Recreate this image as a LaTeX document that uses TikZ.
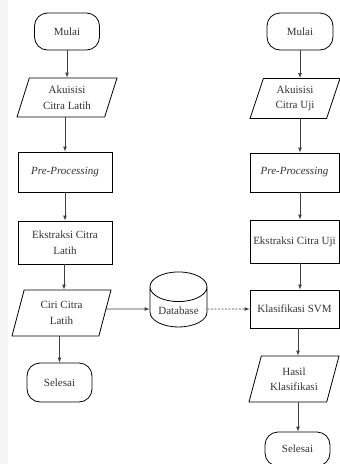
\documentclass[tikz,border=0pt]{standalone}
\usepackage{fontspec}
\setmainfont{Liberation Serif}
\usetikzlibrary{shapes.geometric}

\begin{document}
\begin{tikzpicture}[x=1pt,y=-1pt,
    font=\fontsize{11}{15.5}\selectfont,
    every node/.append style={text=black!80, align=center},
    terminal/.style={draw, thick, rounded corners=13pt, minimum width=65pt, minimum height=37pt},
    proses/.style={draw, thick, rectangle, minimum height=40pt, inner sep=2pt},
    data/.style={draw, thick, trapezium, trapezium left angle=64, trapezium right angle=116,
        trapezium stretches body, minimum height=40pt, minimum width=100pt, inner sep=1pt},
    arr/.style={-latex, black!75, line width=0.7pt}]
    \useasboundingbox (0,0) rectangle (340,464);
    % strip kiri
    \fill[black!4] (0,0) rectangle (8,464);

    % alur pelatihan
    \node[terminal] (mulaiA) at (67,31.5) {Mulai};
    \node[data, minimum height=39pt] (akuisisiA) at (67,97.5) {Akuisisi\\Citra Latih};
    \node[proses, minimum width=94pt] (preA) at (65,172) {\textit{Pre-Processing}};
    \node[proses, minimum width=94pt, minimum height=43pt] (ekstrakA) at (65,242.5) {Ekstraksi Citra\\Latih};
    \node[data, minimum height=46pt, minimum width=99pt] (ciriA) at (61.5,313) {Ciri Citra\\Latih};
    \node[terminal, minimum height=39pt] (selesaiA) at (59.5,382.5) {Selesai};

    % database
    \node[draw, thick, cylinder, shape border rotate=90, aspect=0.7,
        minimum width=57pt, minimum height=55pt, inner sep=1pt] (db) at (178.5,309) {\\[-4pt]Database};

    % alur pengujian
    \node[terminal, minimum width=66pt] (mulaiB) at (300,31.5) {Mulai};
    \node[data, minimum width=90pt] (akuisisiB) at (295,98.5) {Akuisisi\\Citra Uji};
    \node[proses, minimum width=89pt, minimum height=39pt] (preB) at (294.5,172.5) {\textit{Pre-Processing}};
    \node[proses, minimum width=89pt, minimum height=43pt] (ekstrakB) at (294.5,241.5) {Ekstraksi Citra Uji};
    \node[proses, minimum width=89pt, minimum height=38pt] (klasB) at (294.5,309) {Klasifikasi SVM};
    \node[data, minimum width=90pt, minimum height=46pt] (hasilB) at (294,379) {Hasil\\Klasifikasi};
    \node[terminal, minimum height=34pt] (selesaiB) at (297.5,449) {Selesai};

    % panah kiri
    \draw[arr] (mulaiA) -- (mulaiA |- akuisisiA.north);
    \draw[arr] (akuisisiA.south -| preA) -- (preA);
    \draw[arr] (preA) -- (ekstrakA);
    \draw[arr] (ekstrakA.south -| 64,0) -- (ciriA.north -| 64,0);
    \draw[arr] (ciriA.south -| selesaiA) -- (selesaiA);
    % panah kanan
    \draw[arr] (mulaiB) -- (mulaiB |- akuisisiB.north);
    \draw[arr] (akuisisiB.south -| mulaiB) -- (preB.north -| mulaiB);
    \draw[arr] (preB.south -| mulaiB) -- (ekstrakB.north -| mulaiB);
    \draw[arr] (ekstrakB.south -| mulaiB) -- (klasB.north -| mulaiB);
    \draw[arr] (klasB.south -| 298,0) -- (hasilB.north -| 298,0);
    \draw[arr] (hasilB.south -| 298,0) -- (selesaiB.north -| 298,0);
    % database
    \draw[arr] (ciriA.east |- db) -- (db);
    \draw[arr, dash pattern=on 2pt off 1.5pt] (db) -- (db -| klasB.west);
\end{tikzpicture}
\end{document}
